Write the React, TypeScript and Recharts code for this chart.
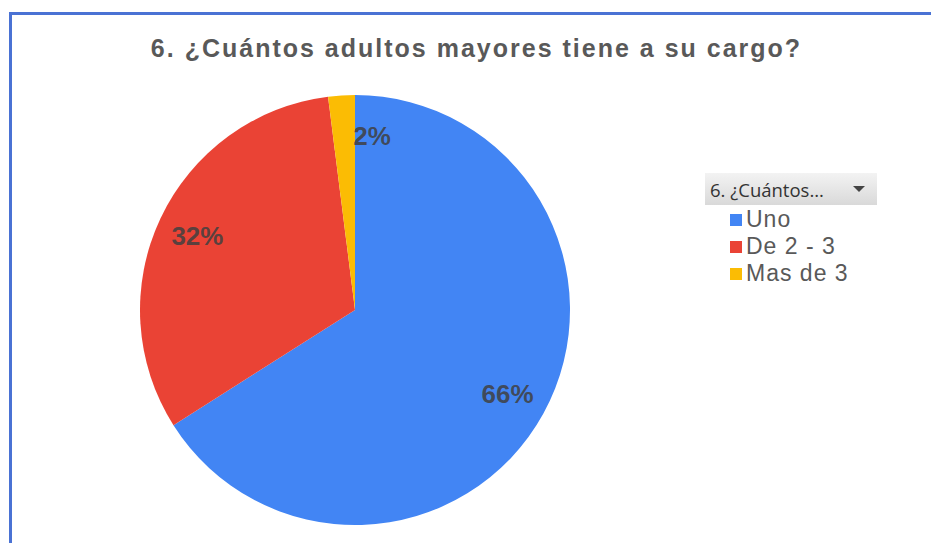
import React from 'react';
import { PieChart, Pie, Cell, Legend } from 'recharts';

const categories = ['Uno', 'De 2 - 3', 'Mas de 3'];
const values = [66, 32, 2];
const colors = ['#4285F4', '#EA4335', '#FBBC04'];
const title = '6. ¿Cuántos adultos mayores tiene a su cargo?';
const legendHeader = '6. ¿Cuántos...';

const data = categories.map((name, i) => ({ name, value: values[i] }));
const total = values.reduce((a, b) => a + b, 0);
const RAD = Math.PI / 180;

const renderLabel = (props: any) => {
  const { cx, cy, midAngle, outerRadius, value } = props;
  const r = outerRadius * 0.81;
  const x = cx + r * Math.cos(-midAngle * RAD);
  const y = cy + r * Math.sin(-midAngle * RAD);
  const pct = Math.round((value / total) * 100);
  const dx = pct < 5 ? 28 : 0;
  return (
    <text
      x={x + dx}
      y={y}
      textAnchor="middle"
      dominantBaseline="central"
      fill="#404040"
      fillOpacity={0.85}
      fontFamily="'Liberation Sans', Arial, sans-serif"
      fontWeight="bold"
      fontSize={26}
    >
      {pct}%
    </text>
  );
};

const LegendContent = () => {
  return (
    <div style={{ width: 172 }}>
      <div
        style={{
          height: 32,
          background: 'linear-gradient(#f3f3f3, #d9d9d9)',
          display: 'flex',
          alignItems: 'center',
          fontFamily: "'Open Sans', 'Noto Sans', sans-serif",
          fontSize: 18.5,
          color: '#333',
          paddingLeft: 5,
          boxSizing: 'border-box',
          position: 'relative',
          whiteSpace: 'nowrap',
        }}
      >
        {legendHeader}
        <span
          style={{
            position: 'absolute',
            left: 148,
            top: 13,
            width: 0,
            height: 0,
            borderLeft: '6px solid transparent',
            borderRight: '6px solid transparent',
            borderTop: '6px solid #444',
          }}
        />
      </div>
      <div style={{ paddingLeft: 25, paddingTop: 1 }}>
        {categories.map((c, i) => (
          <div
            key={c}
            style={{
              display: 'flex',
              alignItems: 'center',
              height: 27,
              fontFamily: "'Liberation Sans', Arial, sans-serif",
              fontSize: 23,
              letterSpacing: 1,
              color: '#595959',
              whiteSpace: 'nowrap',
            }}
          >
            <span style={{ width: 12, height: 12, background: colors[i], marginRight: 4, display: 'inline-block' }} />
            {c}
          </div>
        ))}
      </div>
    </div>
  );
};

export default function App() {
  return (
    <div style={{ position: 'fixed', left: 0, top: 0, width: 931, height: 543, background: '#fff', overflow: 'hidden' }}>
      <div
        style={{
          position: 'absolute',
          left: 9,
          top: 12,
          width: 1000,
          height: 700,
          borderLeft: '3px solid #4a72d4',
          borderTop: '3px solid #4a72d4',
        }}
      />
      <div
        style={{
          position: 'absolute',
          left: 0,
          top: 34,
          width: 953,
          textAlign: 'center',
          fontFamily: "'Liberation Sans', Arial, sans-serif",
          fontWeight: 'bold',
          fontSize: 25,
          letterSpacing: 2,
          color: '#595959',
          whiteSpace: 'nowrap',
        }}
      >
        {title}
      </div>
      <div style={{ position: 'absolute', left: 0, top: 0 }}>
        <PieChart width={931} height={543} margin={{ top: 0, right: 0, bottom: 0, left: 0 }}>
          <Pie
            data={data}
            dataKey="value"
            nameKey="name"
            cx={355}
            cy={310}
            outerRadius={215}
            startAngle={90}
            endAngle={-270}
            stroke="none"
            label={renderLabel}
            labelLine={false}
            isAnimationActive={false}
          >
            {data.map((d, i) => (
              <Cell key={d.name} fill={colors[i]} />
            ))}
          </Pie>
          <Legend
            layout="vertical"
            content={<LegendContent />}
            wrapperStyle={{ position: 'absolute', left: 705, top: 173, width: 172 }}
          />
        </PieChart>
      </div>
    </div>
  );
}
